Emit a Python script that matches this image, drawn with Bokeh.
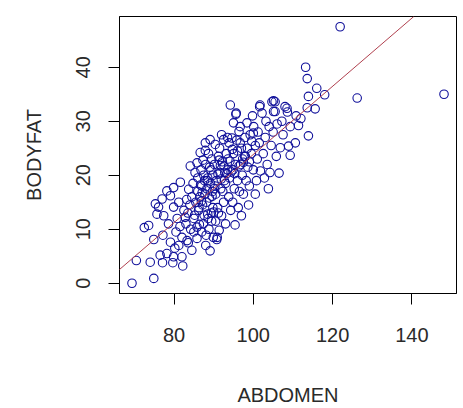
from bokeh.plotting import figure
from bokeh.models import Range1d, FixedTicker, Slope
from bokeh.embed import file_html
from bokeh.resources import INLINE

# ABDOMEN (cm) and BODYFAT (%) values
abdomen = [
    69.4, 70.5, 72.5, 73.6, 74.0, 74.9, 74.9, 75.7, 76.1, 76.5, 75.3,
    77.0, 77.2, 77.1, 77.4, 78.2, 78.2, 78.6, 79.1, 79.1, 79.7, 79.9, 79.9, 79.9,
    80.5, 80.8, 81.2, 81.2, 81.6, 82.0, 82.2, 81.5, 82.5, 82.0, 80.2,
    83.3, 83.7, 84.1, 84.5, 85.8, 85.8, 85.8, 86.6, 83.0, 83.5, 84.0, 84.5, 85.0,
    85.2, 84.8, 85.5, 86.0, 86.4, 83.6, 85.0, 86.2, 86.0, 84.2, 83.2, 82.8, 85.3,
    86.8, 86.5,
    87.9, 87.9, 89.1, 88.5, 88.6, 89.6, 88.1, 89.1, 87.0, 87.5, 88.0, 88.5, 89.0,
    89.5, 87.2, 87.8, 88.3, 89.2, 89.8, 87.4, 88.8, 89.5, 87.0, 88.0, 89.8, 88.7,
    87.3, 86.9, 89.4, 88.2, 87.6, 89.9,
    90.4, 90.7, 90.9, 91.6, 91.4, 90.8, 92.5, 92.8, 94.2, 94.6, 90.2, 90.5, 91.0,
    91.2, 91.8, 92.0, 92.2, 92.5, 93.0, 93.2, 93.5, 93.8, 94.0, 94.4, 91.5, 92.0,
    93.0, 90.5, 91.2, 93.5, 92.7, 94.3, 90.1, 91.7, 93.6,
    95.7, 95.0, 96.7, 96.7, 95.4, 96.4, 96.4, 97.5, 95.0, 95.5, 96.0, 96.5, 97.0,
    97.2, 97.8, 95.2, 94.8, 96.2, 97.5, 95.8, 97.0, 96.0, 94.9, 97.9, 95.6,
    98.4, 98.2, 99.2, 100.1, 100.0, 100.5, 101.6, 101.8, 98.5, 99.0, 99.5, 100.0,
    100.5, 101.0, 101.5, 99.0, 98.8, 100.8, 101.2, 99.8, 98.0,
    102.2, 101.7, 104.7, 105.1, 105.1, 105.5, 105.5, 102.5, 103.0, 103.5, 104.0,
    104.5, 102.8, 103.8, 105.0, 105.8, 104.2, 103.2,
    106.5, 106.8, 107.2, 108.0, 108.5, 108.6, 108.9, 109.3, 109.3, 110.6, 110.8,
    111.4, 113.2, 113.6, 116.0, 118.0, 113.9, 113.6, 115.6, 113.9, 121.9, 126.2,
    148.1, 107.5, 106.0, 112.0,
    86.3, 87.1, 88.4, 89.3, 90.3, 91.1, 91.9, 92.6, 93.3, 94.1, 88.9, 87.7,
    90.0, 92.3, 94.7, 96.8, 98.6, 99.6, 86.7, 89.7, 91.4, 93.9, 95.3, 97.3,
]
bodyfat = [
    0.0, 4.2, 10.3, 10.7, 3.9, 0.9, 8.1, 12.8, 14.1, 5.2, 14.7,
    15.6, 8.9, 3.8, 12.5, 17.1, 5.5, 11.0, 16.2, 7.6, 3.8, 17.7, 14.1, 4.9,
    9.5, 12.0, 15.0, 7.0, 18.7, 4.9, 3.2, 10.5, 13.5, 8.5, 6.5,
    7.9, 17.4, 21.7, 6.1, 22.3, 8.3, 10.4, 24.2, 11.0, 13.0, 14.5, 16.0, 12.0,
    12.6, 18.5, 15.0, 19.5, 10.9, 7.5, 9.5, 13.5, 17.0, 10.0, 15.5, 12.2, 20.5,
    21.0, 16.0,
    24.6, 26.0, 26.6, 12.8, 12.0, 16.1, 8.9, 6.0, 18.0, 20.0, 22.0, 19.5, 21.5,
    23.0, 14.5, 16.5, 17.5, 18.5, 14.0, 11.0, 10.0, 11.5, 9.5, 7.0, 20.0, 24.0,
    22.8, 15.2, 13.0, 15.0, 12.6, 8.5,
    25.7, 19.0, 8.5, 20.5, 9.8, 8.1, 26.6, 20.5, 33.0, 26.9, 22.0, 16.5, 14.0,
    23.5, 17.5, 12.5, 22.5, 15.0, 18.5, 24.0, 21.0, 16.0, 19.5, 20.6, 25.0, 27.5,
    11.0, 11.5, 13.0, 27.0, 19.0, 13.5, 17.5, 21.8, 23.0,
    31.5, 29.7, 29.0, 26.0, 10.8, 21.7, 28.1, 22.4, 24.0, 22.0, 19.0, 17.0, 25.0,
    20.0, 23.5, 17.5, 15.0, 14.0, 16.5, 26.5, 12.5, 24.5, 21.0, 27.0, 31.3,
    29.7, 19.0, 27.5, 29.0, 27.8, 16.5, 32.7, 20.8, 25.0, 22.5, 24.0, 21.0,
    25.5, 23.0, 26.0, 18.0, 14.5, 19.0, 28.0, 31.0, 23.5,
    31.5, 33.0, 33.6, 31.8, 33.8, 33.6, 31.8, 24.0, 27.0, 22.0, 29.0,
    25.5, 19.5, 17.5, 28.0, 23.5, 20.5, 30.0,
    20.4, 25.1, 30.0, 32.7, 32.4, 31.7, 25.4, 29.0, 23.7, 26.0, 31.0,
    29.2, 40.0, 37.9, 36.1, 34.9, 34.6, 32.5, 32.3, 27.3, 47.5, 34.3,
    35.0, 27.5, 29.5, 30.5,
    14.0, 16.8, 19.0, 21.0, 18.0, 20.2, 19.3, 21.7, 20.3, 22.6, 15.8, 19.0,
    13.2, 17.0, 24.8, 22.0, 21.5, 26.3, 18.2, 17.0, 22.8, 26.0, 20.3, 23.0,
]

# least-squares line as drawn
fit_intercept = -39.28
fit_slope = 0.6313

x_ticks = [80, 100, 120, 140]
y_ticks = [0, 10, 20, 30, 40]

FONT = "Liberation Sans"
TXT = "#2a2a2a"

p = figure(width=463, height=408, output_backend="svg", toolbar_location=None,
           x_range=Range1d(66.25, 151.25), y_range=Range1d(-1.9, 49.4),
           x_axis_label="ABDOMEN", y_axis_label="BODYFAT")
p.min_border_left = 119
p.min_border_right = 7
p.min_border_top = 16
p.min_border_bottom = 113
p.background_fill_color = "white"
p.border_fill_color = "white"
p.outline_line_color = "black"
p.outline_line_width = 1
p.xgrid.visible = False
p.ygrid.visible = False

for ax, ticks in ((p.xaxis[0], x_ticks), (p.yaxis[0], y_ticks)):
    ax.ticker = FixedTicker(ticks=ticks)
    ax.minor_tick_line_color = None
    ax.major_tick_in = 0
    ax.major_tick_out = 11
    ax.major_tick_line_color = "black"
    ax.axis_line_color = "black"
    ax.major_label_text_font = FONT
    ax.major_label_text_font_size = "20px"
    ax.major_label_text_color = TXT
    ax.axis_label_text_font = FONT
    ax.axis_label_text_font_size = "20px"
    ax.axis_label_text_font_style = "normal"
    ax.axis_label_text_color = TXT

p.yaxis[0].major_label_orientation = "parallel"
p.yaxis[0].major_label_standoff = 18
p.yaxis[0].axis_label_standoff = 29
p.xaxis[0].major_label_standoff = 23
p.xaxis[0].axis_label_standoff = 39

p.add_layout(Slope(gradient=fit_slope, y_intercept=fit_intercept,
                   line_color="#b0404e", line_width=1))

p.scatter(abdomen, bodyfat, marker="circle", size=8.5, fill_color=None,
          line_color="#10109a", line_width=1.1)

open("out.html", "w").write(file_html(p, INLINE))
